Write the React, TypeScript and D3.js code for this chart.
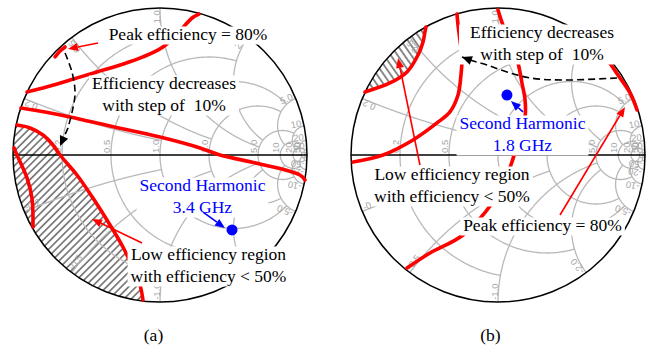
import React, { useEffect, useRef } from 'react';
import * as d3 from 'd3';

type Pt = [number, number];

const WIDTH = 655;
const HEIGHT = 349;

// Smith grid: circle values, the value of the circle each one stops at, and their labels
const gridValues = [0.2, 0.5, 1, 2, 5, 10, 20, 50];
const gridStops = [1, 2, 5, 5, 10, 20, 50, Infinity];
const gridLabels = ['0.2', '0.5', '1.0', '2.0', '5.0', '10', '20', '50'];

// (a) 3.4 GHz second-harmonic efficiency contours, reflection coefficient [re, im]
const effA80: Pt[] = [[-0.714, 0.667], [-0.68, 0.707], [-0.646, 0.735]];
const effA70: Pt[] = [[-0.905, 0.429], [-0.796, 0.456], [-0.612, 0.51], [-0.429, 0.565], [-0.272, 0.612], [-0.116, 0.667], [0.02, 0.735], [0.122, 0.83], [0.218, 0.932], [0.265, 0.959]];
const effA60: Pt[] = [[-0.946, 0.32], [-0.782, 0.293], [-0.612, 0.259], [-0.34, 0.197], [0, 0.122], [0.272, 0.048], [0.408, 0], [0.68, -0.061], [0.952, -0.136], [0.986, -0.17]];
const effA50: Pt[] = [[-0.973, 0.204], [-0.884, 0.184], [-0.796, 0.136], [-0.728, 0.068], [-0.68, 0], [-0.565, -0.136], [-0.456, -0.293], [-0.34, -0.476], [-0.252, -0.626], [-0.184, -0.769], [-0.136, -0.884], [-0.116, -0.986]];
const effA40: Pt[] = [[-0.993, 0.048], [-0.973, 0], [-0.905, -0.156], [-0.871, -0.293], [-0.864, -0.49]];

// (b) 1.8 GHz second-harmonic efficiency contours
const effB80: Pt[] = [[0.626, 0.769], [0.728, 0.667], [0.816, 0.544], [0.898, 0.422], [0.946, 0.306]];
const effB70: Pt[] = [[-0.619, -0.769], [-0.463, -0.667], [-0.238, -0.544], [-0.034, -0.32], [0.048, -0.17], [0.088, -0.068], [0.116, 0.02], [0.15, 0.136], [0.184, 0.259], [0.184, 0.374], [0.163, 0.49], [0.136, 0.626], [0.082, 0.782], [0.034, 0.884], [0, 0.986]];
const effB60: Pt[] = [[-0.986, -0.048], [-0.782, 0], [-0.578, 0.102], [-0.415, 0.218], [-0.327, 0.293], [-0.272, 0.408], [-0.252, 0.544], [-0.245, 0.66], [-0.259, 0.782], [-0.272, 0.884], [-0.279, 0.959]];
const effB50: Pt[] = [[-0.905, 0.429], [-0.735, 0.49], [-0.619, 0.565], [-0.544, 0.68], [-0.51, 0.769], [-0.497, 0.837], [-0.49, 0.871]];

// Second-harmonic load points
const harmonicA: Pt = [0.49, -0.51];
const harmonicB: Pt = [0.061, 0.408];

// Annotation arrows [from, ..., to]
const trendA: Pt[] = [[-0.646, 0.694], [-0.599, 0.565], [-0.578, 0.429], [-0.592, 0.32], [-0.626, 0.184], [-0.68, 0.061]];
const trendB: Pt[] = [[0.81, 0.524], [0.442, 0.51], [0.218, 0.524], [0.061, 0.565], [-0.075, 0.612], [-0.19, 0.646], [-0.245, 0.667]];
const peakArrowA: Pt[] = [[-0.422, 0.762], [-0.626, 0.721]];
const lowArrowA: Pt[] = [[-0.122, -0.599], [-0.463, -0.435]];
const harmonicArrowA: Pt[] = [[0.293, -0.388], [0.442, -0.497]];
const lowArrowB: Pt[] = [[-0.531, -0.068], [-0.68, 0.66]];
const peakArrowB: Pt[] = [[0.422, -0.408], [0.864, 0.327]];
const harmonicArrowB: Pt[] = [[0.17, 0.293], [0.088, 0.367]];

const RED = '#ff0000';
const BLUE = '#0000ff';
const LINE = 22;
const SERIF = "'Liberation Serif', 'Times New Roman', serif";

interface TextBlock { lines: string[]; x: number; y: number; color: string; padL?: number; }
interface Arrow { path: Pt[]; color: string; }
interface Panel {
  cx: number; cy: number; R: number;
  contours: Pt[][];
  hatchEdge: Pt[]; hatchAngle: number; hatchGap: number;
  trend: Pt[];
  arrows: Arrow[];
  dot: Pt;
  blocks: TextBlock[];
  caption: string; captionX: number;
}

const panels: Panel[] = [
  {
    cx: 160, cy: 155, R: 147,
    contours: [effA80, effA70, effA60, effA50, effA40],
    hatchEdge: effA50, hatchAngle: 45, hatchGap: 5.2,
    trend: trendA,
    arrows: [
      { path: peakArrowA, color: RED },
      { path: lowArrowA, color: RED },
      { path: harmonicArrowA, color: BLUE },
    ],
    dot: harmonicA,
    blocks: [
      { lines: ['Peak efficiency = 80%'], x: 188, y: 40, color: '#000' },
      { lines: ['Efficiency decreases', 'with step of  10%'], x: 164, y: 89, color: '#000' },
      { lines: ['Second Harmonic', '3.4 GHz'], x: 202.5, y: 191, color: BLUE },
      { lines: ['Low efficiency region', 'with efficiency < 50%'], x: 208.5, y: 260, color: '#000' },
    ],
    caption: '(a)', captionX: 153.5,
  },
  {
    cx: 498, cy: 155, R: 147,
    contours: [effB80, effB70, effB60, effB50],
    hatchEdge: effB50, hatchAngle: -35, hatchGap: 5.6,
    trend: trendB,
    arrows: [
      { path: lowArrowB, color: RED },
      { path: peakArrowB, color: RED },
      { path: harmonicArrowB, color: BLUE },
    ],
    dot: harmonicB,
    blocks: [
      { lines: ['Efficiency decreases', 'with step of  10%'], x: 542, y: 38, color: '#000', padL: 11 },
      { lines: ['Second Harmonic', '1.8 GHz'], x: 522.5, y: 129, color: BLUE },
      { lines: ['Low efficiency region', 'with efficiency < 50%'], x: 452, y: 180, color: '#000' },
      { lines: ['Peak efficiency = 80%'], x: 542.5, y: 231, color: '#000' },
    ],
    caption: '(b)', captionX: 490.5,
  },
];

function arrowHead(g: any, tip: Pt, from: Pt, len: number, half: number, color: string) {
  const dx = tip[0] - from[0];
  const dy = tip[1] - from[1];
  const d = Math.hypot(dx, dy) || 1;
  const ux = dx / d, uy = dy / d;
  const bx = tip[0] - ux * len, by = tip[1] - uy * len;
  g.append('path')
    .attr('d', `M${tip[0]},${tip[1]}L${bx - uy * half},${by + ux * half}L${bx + uy * half},${by - ux * half}Z`)
    .attr('fill', color);
  return [bx, by] as Pt;
}

function drawPanel(svg: any, defs: any, p: Panel, idx: number) {
  const sx = d3.scaleLinear().domain([-1, 1]).range([p.cx - p.R, p.cx + p.R]);
  const sy = d3.scaleLinear().domain([-1, 1]).range([p.cy + p.R, p.cy - p.R]);
  const toScreen = (d: Pt): Pt => [sx(d[0]), sy(d[1])];
  const straight = d3.line<Pt>().x(d => sx(d[0])).y(d => sy(d[1]));
  const smooth = d3.line<Pt>().x(d => sx(d[0])).y(d => sy(d[1])).curve(d3.curveCatmullRom.alpha(0.5));
  const g = svg.append('g');

  // hatched low-efficiency region: contour, then back along the rim
  const edge = p.hatchEdge;
  const last = edge[edge.length - 1];
  const aEnd = Math.atan2(last[1], last[0]);
  const aStart = Math.atan2(edge[0][1], edge[0][0]);
  let span = aStart - aEnd;
  while (span > Math.PI) span -= 2 * Math.PI;
  while (span < -Math.PI) span += 2 * Math.PI;
  const rim: Pt[] = d3.range(61).map(i => {
    const a = aEnd + (span * i) / 60;
    return [Math.cos(a), Math.sin(a)] as Pt;
  });
  const pid = `hatch-${idx}`;
  const pat = defs.append('pattern')
    .attr('id', pid)
    .attr('patternUnits', 'userSpaceOnUse')
    .attr('width', p.hatchGap)
    .attr('height', 10)
    .attr('patternTransform', `rotate(${p.hatchAngle})`);
  pat.append('line')
    .attr('x1', p.hatchGap / 2).attr('x2', p.hatchGap / 2)
    .attr('y1', 0).attr('y2', 10)
    .attr('stroke', '#2e2e2e').attr('stroke-width', 1.1);
  g.append('path')
    .attr('d', `${smooth(edge)}${(straight(rim) as string).replace(/^M/, 'L')}Z`)
    .attr('fill', `url(#${pid})`);

  // Smith chart grid
  const grid = g.append('g').attr('fill', 'none').attr('stroke', '#b9b9b9').attr('stroke-width', 1.3);
  const N = 240;
  gridValues.forEach((v, k) => {
    const stop = gridStops[k];
    const am = Math.atan(stop / (v + 1));
    const circle: Pt[] = d3.range(N + 1).map(i => {
      const a = -am + (2 * am * i) / N;
      return [(v - Math.cos(2 * a)) / (v + 1), Math.sin(2 * a) / (v + 1)] as Pt;
    });
    grid.append('path').attr('d', straight(circle));
    [v, -v].forEach(x => {
      const g0 = Math.atan(x);
      const g1 = Math.atan(x / (stop + 1));
      const arc: Pt[] = d3.range(N + 1).map(i => {
        const t = g0 + ((g1 - g0) * i) / N;
        return [1 - Math.sin(2 * t) / x, (1 - Math.cos(2 * t)) / x] as Pt;
      });
      grid.append('path').attr('d', straight(arc));
    });
  });

  // grid labels
  const lab = g.append('g')
    .attr('fill', '#a6a6a6')
    .attr('font-family', "'Liberation Sans', Arial, sans-serif")
    .attr('font-size', 9.5);
  gridValues.forEach((v, k) => {
    const px = sx((v - 1) / (v + 1));
    lab.append('text')
      .attr('transform', `translate(${px - 1.5},${sy(0) - 2}) rotate(-90)`)
      .text(gridLabels[k]);
    const th = Math.atan2(2 * v, v * v - 1);
    const deg = (th * 180) / Math.PI;
    const rr = 0.985;
    const pos = toScreen([rr * Math.cos(th), rr * Math.sin(th)]);
    lab.append('text')
      .attr('text-anchor', 'end')
      .attr('transform', `translate(${pos[0]},${pos[1]}) rotate(${-deg})`)
      .text(gridLabels[k]);
    const neg = toScreen([rr * Math.cos(-th), rr * Math.sin(-th)]);
    lab.append('text')
      .attr('text-anchor', 'start')
      .attr('transform', `translate(${neg[0]},${neg[1]}) rotate(${deg - 180})`)
      .text('-' + gridLabels[k]);
  });

  // real axis and unit circle
  g.append('line')
    .attr('x1', sx(-1)).attr('x2', sx(1)).attr('y1', sy(0)).attr('y2', sy(0))
    .attr('stroke', '#000').attr('stroke-width', 1.5);
  g.append('circle')
    .attr('cx', sx(0)).attr('cy', sy(0)).attr('r', sx(1) - sx(0))
    .attr('fill', 'none').attr('stroke', '#000').attr('stroke-width', 1.5);

  // efficiency contours
  const contourLayer = g.append('g')
    .attr('fill', 'none')
    .attr('stroke', RED)
    .attr('stroke-width', 3.6)
    .attr('stroke-linecap', 'round')
    .attr('stroke-linejoin', 'round');
  p.contours.forEach(c => {
    contourLayer.append('path').attr('d', smooth(c));
  });

  // annotation text on white boxes
  const tg = g.append('g').attr('font-family', SERIF).attr('font-size', 17.5);
  p.blocks.forEach(b => {
    const bg = tg.append('g');
    const rect = bg.append('rect').attr('fill', '#fff');
    let minX = Infinity, maxX = -Infinity;
    b.lines.forEach((ln, i) => {
      const t = bg.append('text')
        .attr('x', b.x).attr('y', b.y + i * LINE)
        .attr('text-anchor', 'middle')
        .attr('fill', b.color)
        .style('white-space', 'pre')
        .text(ln);
      const w = (t.node() as SVGTextElement).getComputedTextLength();
      minX = Math.min(minX, b.x - w / 2);
      maxX = Math.max(maxX, b.x + w / 2);
    });
    const padL = b.padL ?? 3;
    rect
      .attr('x', minX - padL).attr('y', b.y - 13.5)
      .attr('width', maxX - minX + padL + 3)
      .attr('height', (b.lines.length - 1) * LINE + 18);
  });

  // dashed trend arrow
  const tr = p.trend.map(toScreen);
  g.append('path')
    .attr('d', smooth(p.trend.slice(0, -1)) + `L${tr[tr.length - 1][0]},${tr[tr.length - 1][1]}`)
    .attr('fill', 'none')
    .attr('stroke', '#000')
    .attr('stroke-width', 1.6)
    .attr('stroke-dasharray', '7,4');
  arrowHead(g, tr[tr.length - 1], tr[tr.length - 2], 10, 4.5, '#000');

  // pointer arrows
  p.arrows.forEach(a => {
    const pts = a.path.map(toScreen);
    const base = arrowHead(g, pts[1], pts[0], 10, 4, a.color);
    g.append('line')
      .attr('x1', pts[0][0]).attr('y1', pts[0][1])
      .attr('x2', base[0]).attr('y2', base[1])
      .attr('stroke', a.color).attr('stroke-width', 1.6);
  });

  // second-harmonic load point
  const dp = toScreen(p.dot);
  g.append('circle').attr('cx', dp[0]).attr('cy', dp[1]).attr('r', 5.5).attr('fill', BLUE);

  g.append('text')
    .attr('x', p.captionX).attr('y', 341)
    .attr('text-anchor', 'middle')
    .attr('font-family', SERIF).attr('font-size', 17.5)
    .text(p.caption);
}

export default function App() {
  const ref = useRef<SVGSVGElement>(null);
  useEffect(() => {
    const svg = d3.select(ref.current);
    svg.selectAll('*').remove();
    const defs = svg.append('defs');
    panels.forEach((p, i) => drawPanel(svg, defs, p, i));
  }, []);
  return (
    <svg
      ref={ref}
      width={WIDTH}
      height={HEIGHT}
      style={{ position: 'absolute', left: 0, top: 0, background: '#fff', display: 'block' }}
    />
  );
}
